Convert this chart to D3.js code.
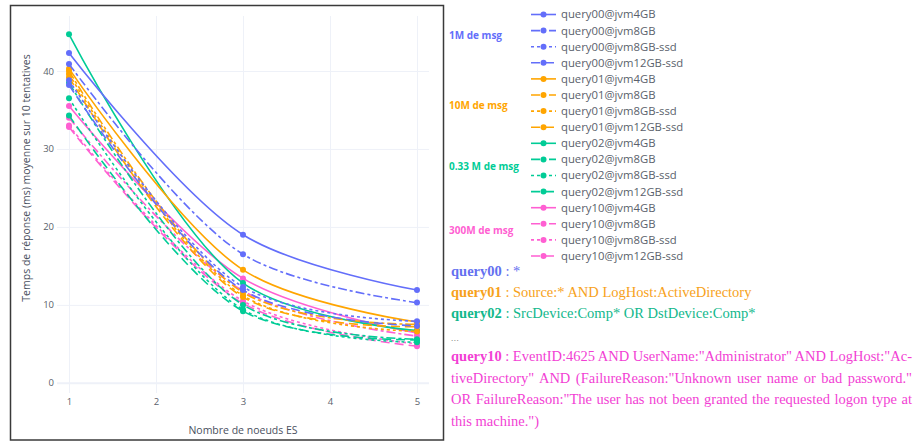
<!DOCTYPE html>
<html>
<head>
<meta charset="utf-8">
<script src="https://cdn.jsdelivr.net/npm/d3@7"></script>
<style>
  html, body { margin: 0; padding: 0; background: #fff; }
  svg { display: block; }
</style>
</head>
<body>
<svg id="chart"></svg>
<script>
// data
const nodes = [1, 3, 5];
const queries = ['query00', 'query01', 'query02', 'query10'];
const configs = ['jvm4GB', 'jvm8GB', 'jvm8GB-ssd', 'jvm12GB-ssd'];

const query00 = [[42.3, 19.0, 11.9], [40.9, 16.5, 10.3], [38.8, 12.3, 7.9], [38.2, 11.9, 7.3]];
const query01 = [[40.3, 14.5, 7.8], [40.0, 11.6, 7.5], [39.6, 11.2, 6.6], [39.2, 11.0, 7.2]];
const query02 = [[44.7, 12.8, 6.7], [38.5, 10.0, 5.6], [36.5, 9.4, 5.2], [34.3, 9.2, 5.5]];
const query10 = [[35.5, 13.4, 6.4], [34.0, 11.8, 6.0], [33.0, 10.5, 5.0], [32.8, 10.2, 4.7]];

const groupLabels = ['1M de msg', '10M de msg', '0.33 M de msg', '300M de msg'];
const yTicks = [0, 10, 20, 30, 40];
const xTicks = [1, 2, 3, 4, 5];

const queryLines = [
  { q: 'query00', rest: ' : *' },
  { q: 'query01', rest: ' : Source:* AND LogHost:ActiveDirectory' },
  { q: 'query02', rest: ' : SrcDevice:Comp* OR DstDevice:Comp*' }
];
const query10Lines = [
  ' : EventID:4625 AND UserName:"Administrator" AND LogHost:"Ac-',
  'tiveDirectory" AND (FailureReason:"Unknown user name or bad password."',
  'OR FailureReason:"The user has not been granted the requested logon type at',
  'this machine.")'
];

const colors = ['#636efa', '#ffa500', '#00cc96', '#ff5fd2'];
const textColors = ['#6470f0', '#f7a21b', '#12b88c', '#f23fd4'];
const dashes = [null, '9,3,3,3', '3,3', '9,5'];

const seriesValues = [query00, query01, query02, query10];

const W = 914, H = 442;
const svg = d3.select('#chart').attr('width', W).attr('height', H);

// frame around the plot image
svg.append('rect')
  .attr('x', 10.5).attr('y', 5.5).attr('width', 433).attr('height', 434.5)
  .attr('fill', 'none').attr('stroke', '#3a3a3a').attr('stroke-width', 1.5);

const pLeft = 57, pRight = 429, pTop = 16, pBottom = 393;

const x = d3.scaleLinear().domain([0.862, 5.138]).range([pLeft, pRight]);
const y = d3.scaleLinear().domain([-1.3, 47.05]).range([pBottom, pTop]);

// grid + axes
const gx = svg.append('g')
  .attr('transform', `translate(0, ${pBottom})`)
  .call(d3.axisBottom(x).tickValues(xTicks).tickFormat(d3.format('d'))
    .tickSize(-(pBottom - pTop)).tickPadding(5));
gx.select('.domain').remove();
gx.selectAll('line').attr('stroke', '#eef1f8').attr('stroke-width', 1);
gx.selectAll('text').attr('fill', '#5a5f6b').style('font-family', 'Open Sans, sans-serif').style('font-size', '9.5px');

const gy = svg.append('g')
  .attr('transform', `translate(${pLeft}, 0)`)
  .call(d3.axisLeft(y).tickValues(yTicks).tickSize(-(pRight - pLeft)).tickPadding(3));
gy.select('.domain').remove();
gy.selectAll('line').attr('stroke', '#eef1f8').attr('stroke-width', d => d === 0 ? 2 : 1);
gy.selectAll('text').attr('fill', '#5a5f6b').style('font-family', 'Open Sans, sans-serif').style('font-size', '9.5px');

// axis titles
svg.append('text')
  .attr('x', (x(1) + x(5)) / 2).attr('y', 434)
  .attr('text-anchor', 'middle')
  .style('font-family', 'Open Sans, sans-serif').style('font-size', '10.5px')
  .attr('fill', '#4a5060')
  .text('Nombre de noeuds ES');

svg.append('text')
  .attr('transform', 'translate(30, 178) rotate(-90)')
  .attr('text-anchor', 'middle')
  .style('font-family', 'Open Sans, sans-serif').style('font-size', '10.5px')
  .attr('fill', '#4a5060')
  .text('Temps de réponse  (ms) moyenne sur 10 tentatives');

// lines
const line = d3.line()
  .x((d, i) => x(nodes[i]))
  .y(d => y(d))
  .curve(d3.curveCatmullRom.alpha(0.5));

const plot = svg.append('g');
// draw in reverse so query00 ends up on top
for (let qi = queries.length - 1; qi >= 0; qi--) {
  for (let ci = configs.length - 1; ci >= 0; ci--) {
    const vals = seriesValues[qi][ci];
    plot.append('path')
      .attr('d', line(vals))
      .attr('fill', 'none')
      .attr('stroke', colors[qi])
      .attr('stroke-width', 1.6)
      .attr('stroke-dasharray', dashes[ci]);
    plot.selectAll(null)
      .data(vals)
      .enter()
      .append('circle')
      .attr('cx', (d, i) => x(nodes[i]))
      .attr('cy', d => y(d))
      .attr('r', 3)
      .attr('fill', colors[qi]);
  }
}

// legend
const legend = svg.append('g');
const rowY0 = 14.5, rowH = 16.1;
queries.forEach((q, qi) => {
  configs.forEach((c, ci) => {
    const ry = rowY0 + (qi * 4 + ci) * rowH;
    legend.append('line')
      .attr('x1', 531).attr('x2', 556).attr('y1', ry).attr('y2', ry)
      .attr('stroke', colors[qi]).attr('stroke-width', 1.6)
      .attr('stroke-dasharray', dashes[ci]);
    legend.append('circle')
      .attr('cx', 543.5).attr('cy', ry).attr('r', 3).attr('fill', colors[qi]);
    legend.append('text')
      .attr('x', 561).attr('y', ry).attr('dy', '0.35em')
      .style('font-family', 'Open Sans, sans-serif').style('font-size', '11.3px')
      .attr('fill', '#5a5f6b')
      .text(`${q}@${c}`);
  });
});

// group labels
const groupY = [35, 105, 166, 230];
groupLabels.forEach((g, i) => {
  svg.append('text')
    .attr('x', 449).attr('y', groupY[i]).attr('dy', '0.35em')
    .style('font-family', 'Open Sans, sans-serif').style('font-size', '10px')
    .style('font-weight', 'bold')
    .attr('fill', colors[i])
    .text(g);
});

// query definitions
const tx = 451, tRight = 912;
const serif = 'Liberation Serif, DejaVu Serif, serif';
const lineYs = [276, 297, 318];
queryLines.forEach((l, i) => {
  const t = svg.append('text')
    .attr('x', tx).attr('y', lineYs[i])
    .style('font-family', serif).style('font-size', '14.5px')
    .attr('fill', textColors[i]);
  t.append('tspan').style('font-weight', 'bold').text(l.q);
  t.append('tspan').text(l.rest);
});

svg.append('text')
  .attr('x', tx).attr('y', 341)
  .style('font-family', serif).style('font-size', '9px')
  .style('letter-spacing', '0.5px')
  .attr('fill', '#666')
  .text('...');

const q10Y = [361, 383, 404, 426];
query10Lines.forEach((l, i) => {
  const t = svg.append('text')
    .attr('x', tx).attr('y', q10Y[i])
    .style('font-family', serif).style('font-size', '14.5px')
    .attr('fill', textColors[3]);
  if (i === 0) t.append('tspan').style('font-weight', 'bold').text('query10');
  t.append('tspan').text(l);
  // justify all but the last line
  if (i < query10Lines.length - 1) {
    const natural = t.node().getComputedTextLength();
    const full = (i === 0 ? 'query10' : '') + l;
    const spaces = (full.match(/ /g) || []).length;
    const extra = (tRight - tx - natural) / spaces;
    t.style('word-spacing', `${extra}px`);
  }
});
</script>
</body>
</html>
